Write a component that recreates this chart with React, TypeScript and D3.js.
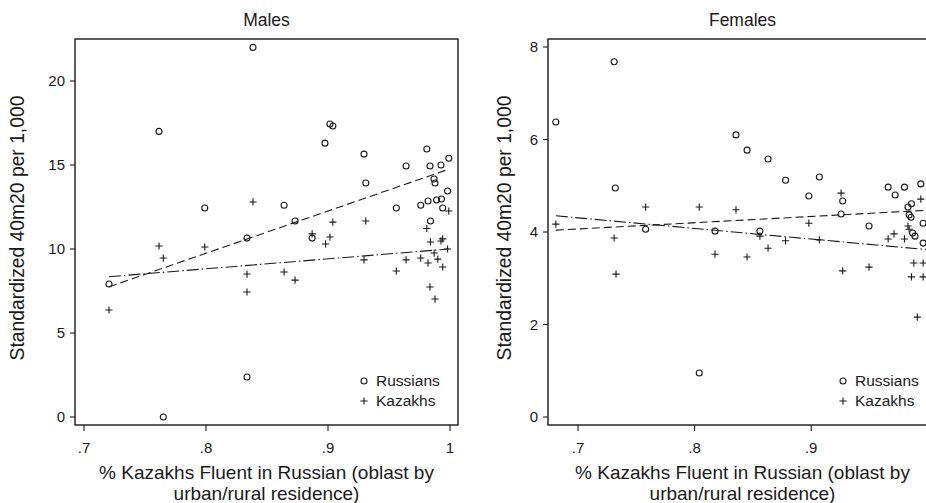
import React from "react";
import * as d3 from "d3";

// ---------- DATA ----------
const panelTitles = ["Males", "Females"];
const yAxisTitle = "Standardized 40m20 per 1,000";
const xAxisTitleLines = ["% Kazakhs Fluent in Russian (oblast by", "urban/rural residence)"];
const legendLabels = ["Russians", "Kazakhs"];

const malesXTicks = [0.7, 0.8, 0.9, 1.0];
const malesXTickLabels = [".7", ".8", ".9", "1"];
const femalesXTicks = [0.7, 0.8, 0.9];
const femalesXTickLabels = [".7", ".8", ".9"];
const malesYTicks = [0, 5, 10, 15, 20];
const femalesYTicks = [0, 2, 4, 6, 8];

const malesRussians: [number, number][] = [
  [0.8385, 22.0], [0.7615, 17.0], [0.799, 12.44], [0.9016, 17.44], [0.904, 17.32],
  [0.8975, 16.3], [0.9295, 15.65], [0.981, 15.95], [0.999, 15.4], [0.964, 14.94],
  [0.9836, 14.94], [0.9926, 15.0], [0.9869, 14.17], [0.9877, 13.93], [0.931, 13.93],
  [0.998, 13.45], [0.976, 12.6], [0.982, 12.86], [0.989, 12.92], [0.993, 12.98],
  [0.994, 12.44], [0.956, 12.44], [0.864, 12.6], [0.873, 11.67], [0.984, 11.67],
  [0.887, 10.65], [0.8336, 10.65], [0.7205, 7.92], [0.8336, 2.38], [0.765, 0.0],
];
const malesKazakhs: [number, number][] = [
  [0.8385, 12.8], [0.904, 11.6], [0.931, 11.67], [0.999, 12.26], [0.981, 11.22],
  [0.887, 10.9], [0.9016, 10.71], [0.898, 10.3], [0.984, 10.42], [0.9926, 10.48],
  [0.994, 10.6], [0.998, 10.0], [0.987, 9.76], [0.976, 9.46], [0.982, 9.17],
  [0.99, 9.4], [0.994, 8.93], [0.964, 9.35], [0.956, 8.69], [0.9295, 9.35],
  [0.864, 8.63], [0.873, 8.15], [0.9836, 7.74], [0.9877, 7.02], [0.7615, 10.18],
  [0.765, 9.46], [0.799, 10.12], [0.7205, 6.37], [0.8336, 8.51], [0.8336, 7.44],
];
const femalesRussians: [number, number][] = [
  [0.681, 6.38], [0.731, 7.68], [0.732, 4.95], [0.758, 4.06], [0.8175, 4.02],
  [0.804, 0.95], [0.8355, 6.1], [0.845, 5.77], [0.863, 5.58], [0.878, 5.12],
  [0.907, 5.19], [0.898, 4.78], [0.927, 4.67], [0.9256, 4.39], [0.9496, 4.13],
  [0.966, 4.97], [0.972, 4.8], [0.98, 4.97], [0.994, 5.04], [0.983, 4.54],
  [0.986, 4.61], [0.984, 4.37], [0.9856, 4.32], [0.996, 4.19], [0.856, 4.02],
  [0.987, 3.98], [0.989, 3.91], [0.996, 3.76],
];
const femalesKazakhs: [number, number][] = [
  [0.681, 4.17], [0.758, 4.54], [0.804, 4.54], [0.731, 3.87], [0.7326, 3.09],
  [0.8175, 3.52], [0.8355, 4.48], [0.9256, 4.84], [0.898, 4.19], [0.994, 4.71],
  [0.983, 4.13], [0.856, 3.91], [0.863, 3.65], [0.878, 3.81], [0.907, 3.83],
  [0.845, 3.46], [0.927, 3.16], [0.9496, 3.24], [0.966, 3.85], [0.971, 3.96],
  [0.98, 3.85], [0.984, 4.06], [0.988, 3.33], [0.996, 3.33], [0.986, 3.03],
  [0.996, 3.03], [0.991, 2.16],
];
// fitted lines (endpoints)
const malesFitRussians: [number, number][] = [[0.7205, 7.75], [0.999, 14.75]];
const malesFitKazakhs: [number, number][] = [[0.7205, 8.35], [0.999, 10.0]];
const femalesFitRussians: [number, number][] = [[0.681, 4.04], [0.999, 4.47]];
const femalesFitKazakhs: [number, number][] = [[0.681, 4.35], [0.999, 3.62]];

const FONT = "'Liberation Sans', Arial, Helvetica, sans-serif";
const INK = "#1a1a1a";

type PanelProps = {
  title: string;
  frame: { x0: number; x1: number; y0: number; y1: number };
  xRange: [number, number]; // pixel positions of 0.7 and 1.0
  xTicks: number[];
  xTickLabels: string[];
  yDomain: [number, number];
  yRange: [number, number];
  yTicks: number[];
  russians: [number, number][];
  kazakhs: [number, number][];
  fitR: [number, number][];
  fitK: [number, number][];
  yTitleX: number;
  legendX: number;
};

function Panel(p: PanelProps) {
  const x = d3.scaleLinear().domain([0.7, 1.0]).range(p.xRange);
  const y = d3.scaleLinear().domain(p.yDomain).range(p.yRange);
  const line = d3.line<[number, number]>().x((d) => x(d[0])).y((d) => y(d[1]));
  const { x0, x1, y0, y1 } = p.frame;
  const cx = (x0 + x1) / 2;
  const cy = (y0 + y1) / 2;
  return (
    <g>
      <text x={cx} y={26} textAnchor="middle" fontSize={17.5} fill={INK}>{p.title}</text>
      <rect x={x0} y={y0} width={x1 - x0} height={y1 - y0} fill="none" stroke={INK} strokeWidth={1.4} />
      {p.yTicks.map((t) => (
        <g key={"y" + t}>
          <line x1={x0 - 5} x2={x0} y1={y(t)} y2={y(t)} stroke={INK} strokeWidth={1.1} />
          <text x={x0 - 10} y={y(t)} dy="0.35em" textAnchor="end" fontSize={15} fill={INK}>{t}</text>
        </g>
      ))}
      {p.xTicks.map((t, i) => (
        <g key={"x" + t}>
          <line x1={x(t)} x2={x(t)} y1={y1} y2={y1 + 6} stroke={INK} strokeWidth={1.1} />
          <text x={x(t)} y={453} textAnchor="middle" fontSize={15} fill={INK}>{p.xTickLabels[i]}</text>
        </g>
      ))}
      <text transform={`translate(${p.yTitleX},${cy - 4}) rotate(-90)`} textAnchor="middle" fontSize={19.3} fill={INK}>{yAxisTitle}</text>
      {xAxisTitleLines.map((s, i) => (
        <text key={s} x={cx} y={479 + i * 21} textAnchor="middle" fontSize={19} fill={INK}>{s}</text>
      ))}
      <path d={line(p.fitR) || ""} fill="none" stroke={INK} strokeWidth={1.1} strokeDasharray="8,4" />
      <path d={line(p.fitK) || ""} fill="none" stroke={INK} strokeWidth={1.1} strokeDasharray="12,3,1.5,3" />
      {p.russians.map((d, i) => (
        <circle key={"r" + i} cx={x(d[0])} cy={y(d[1])} r={3} fill="none" stroke={INK} strokeWidth={1.1} />
      ))}
      {p.kazakhs.map((d, i) => (
        <path key={"k" + i} d={`M${x(d[0]) - 3.6},${y(d[1])}h7.2M${x(d[0])},${y(d[1]) - 3.6}v7.2`} stroke={INK} strokeWidth={1.1} fill="none" />
      ))}
      <circle cx={p.legendX} cy={381} r={3} fill="none" stroke={INK} strokeWidth={1.1} />
      <text x={p.legendX + 12} y={381} dy="0.35em" fontSize={15.5} fill={INK}>{legendLabels[0]}</text>
      <path d={`M${p.legendX - 3.6},401h7.2M${p.legendX},397.4v7.2`} stroke={INK} strokeWidth={1.1} fill="none" />
      <text x={p.legendX + 12} y={401} dy="0.35em" fontSize={15.5} fill={INK}>{legendLabels[1]}</text>
    </g>
  );
}

export default function App() {
  return (
    <svg width={926} height={503} style={{ position: "absolute", left: 0, top: 0, background: "#fff" }} fontFamily={FONT}>
      <rect width={926} height={503} fill="#fff" />
      <Panel
        title={panelTitles[0]}
        frame={{ x0: 75, x1: 458, y0: 39, y1: 425 }}
        xRange={[84, 450]}
        xTicks={malesXTicks}
        xTickLabels={malesXTickLabels}
        yDomain={[0, 20]}
        yRange={[417, 81]}
        yTicks={malesYTicks}
        russians={malesRussians}
        kazakhs={malesKazakhs}
        fitR={malesFitRussians}
        fitK={malesFitKazakhs}
        yTitleX={24}
        legendX={364}
      />
      <Panel
        title={panelTitles[1]}
        frame={{ x0: 548, x1: 937, y0: 39, y1: 425 }}
        xRange={[578, 927.8]}
        xTicks={femalesXTicks}
        xTickLabels={femalesXTickLabels}
        yDomain={[0, 8]}
        yRange={[417, 47]}
        yTicks={femalesYTicks}
        russians={femalesRussians}
        kazakhs={femalesKazakhs}
        fitR={femalesFitRussians}
        fitK={femalesFitKazakhs}
        yTitleX={511}
        legendX={843}
      />
    </svg>
  );
}
